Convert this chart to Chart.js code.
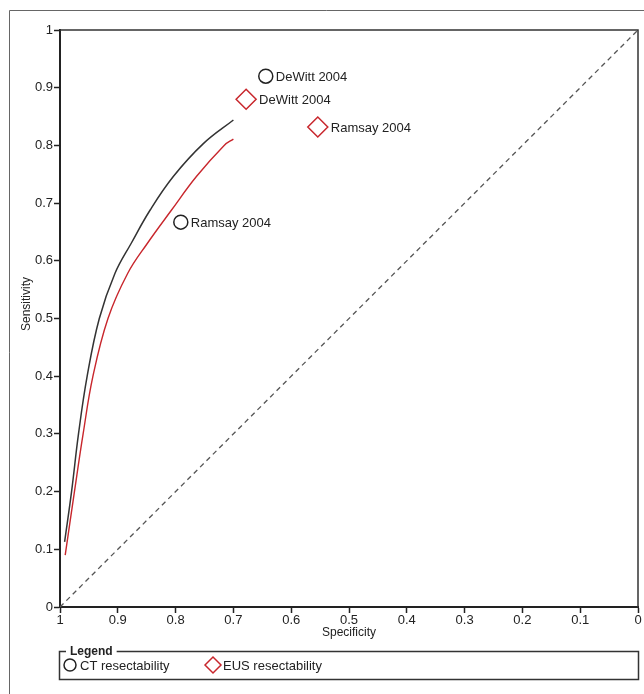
<!DOCTYPE html>
<html>
<head>
<meta charset="utf-8">
<script src="https://cdn.jsdelivr.net/npm/chart.js@4.4.1/dist/chart.umd.min.js"></script>
<style>
  html, body { margin: 0; padding: 0; background: #fff; }
  #wrap { width: 644px; height: 694px; }
</style>
</head>
<body>
<div id="wrap"><canvas id="sroc"></canvas></div>
<script>
// names shown in the legend box
const seriesNames = ['CT resectability', 'EUS resectability'];

// single studies (specificity, sensitivity)
const ctStudies = ['DeWitt 2004', 'Ramsay 2004'];
const ctSpec = [0.644, 0.791];
const ctSens = [0.920, 0.667];

const eusStudies = ['DeWitt 2004', 'Ramsay 2004'];
const eusSpec = [0.678, 0.554];
const eusSens = [0.880, 0.832];

// summary ROC curves
const ctCurveSpec = [0.992, 0.980, 0.968, 0.953, 0.932, 0.905, 0.877, 0.844, 0.804, 0.752, 0.700];
const ctCurveSens = [0.113, 0.200, 0.300, 0.400, 0.500, 0.578, 0.630, 0.688, 0.746, 0.803, 0.844];
const eusCurveSpec = [0.991, 0.975, 0.960, 0.943, 0.917, 0.883, 0.849, 0.807, 0.764, 0.716, 0.700];
const eusCurveSens = [0.090, 0.200, 0.300, 0.400, 0.500, 0.578, 0.630, 0.688, 0.746, 0.800, 0.811];

// chance line
const diagSpec = [1, 0];
const diagSens = [0, 1];

// tick labels, 0 .. 1 in steps of 0.1
const tickLabels = ['0', '0.1', '0.2', '0.3', '0.4', '0.5', '0.6', '0.7', '0.8', '0.9', '1'];
const yTitle = 'Sensitivity';
const xTitle = 'Specificity';

const FONT = '"Liberation Sans", Arial, sans-serif';
const RED = '#c8262c';

function toPts(xs, ys) {
    return xs.map((x, i) => ({ x: x, y: ys[i] }));
}

function tickText(value) {
    return tickLabels[Math.round(value * 10)];
}

// frame, plot box, study labels and legend box
const extras = {
    id: 'extras',
    beforeDraw(chart) {
        const c = chart.ctx;
        c.save();
        c.strokeStyle = '#666';
        c.lineWidth = 1;
        c.beginPath();
        c.moveTo(9.5, 694);
        c.lineTo(9.5, 10.5);
        c.lineTo(644, 10.5);
        c.stroke();
        c.restore();
    },
    afterDraw(chart) {
        const c = chart.ctx;
        const a = chart.chartArea;
        c.save();
        c.strokeStyle = '#333';
        c.lineWidth = 1.5;
        c.beginPath();
        c.moveTo(a.left, a.top);
        c.lineTo(a.right, a.top);
        c.lineTo(a.right, a.bottom);
        c.stroke();

        // y axis title sits a little above the middle in the original
        c.save();
        c.translate(27, 304);
        c.rotate(-Math.PI / 2);
        c.font = '12px ' + FONT;
        c.fillStyle = '#222';
        c.textAlign = 'center';
        c.textBaseline = 'middle';
        c.fillText(yTitle, 0, 0);
        c.restore();

        // labels next to each study marker
        c.font = '13px ' + FONT;
        c.fillStyle = '#222';
        c.textBaseline = 'middle';
        chart.data.datasets.forEach((ds, i) => {
            if (!ds.studyLabels) return;
            chart.getDatasetMeta(i).data.forEach((pt, j) => {
                c.fillText(ds.studyLabels[j], pt.x + ds.pointRadius + 3, pt.y + 1);
            });
        });

        // legend box
        const lx = 59.5, ly = 651.5, lw = 579, lh = 28;
        c.strokeStyle = '#333';
        c.lineWidth = 1.5;
        c.strokeRect(lx, ly, lw, lh);
        c.font = 'bold 12px ' + FONT;
        const tw = c.measureText('Legend').width;
        c.fillStyle = '#fff';
        c.fillRect(66, ly - 3, tw + 8, 6);
        c.fillStyle = '#222';
        c.fillText('Legend', 70, ly);

        const my = 665;
        c.lineWidth = 1.5;
        c.strokeStyle = '#222';
        c.beginPath();
        c.arc(70, my, 6, 0, Math.PI * 2);
        c.stroke();
        c.font = '13px ' + FONT;
        c.fillText(seriesNames[0], 80, my + 1);

        c.strokeStyle = RED;
        c.beginPath();
        c.moveTo(205, my);
        c.lineTo(213, my - 8);
        c.lineTo(221, my);
        c.lineTo(213, my + 8);
        c.closePath();
        c.stroke();
        c.fillText(seriesNames[1], 223, my + 1);
        c.restore();
    }
};

const ctx = document.getElementById('sroc').getContext('2d');

const chart = new Chart(ctx, {
    type: 'scatter',
    data: {
        datasets: [
            {
                label: 'chance',
                data: toPts(diagSpec, diagSens),
                showLine: true,
                borderColor: '#555',
                borderWidth: 1.3,
                borderDash: [5, 4],
                pointRadius: 0
            },
            {
                label: seriesNames[0] + ' SROC',
                data: toPts(ctCurveSpec, ctCurveSens),
                showLine: true,
                borderColor: '#333',
                borderWidth: 1.5,
                tension: 0.4,
                pointRadius: 0
            },
            {
                label: seriesNames[1] + ' SROC',
                data: toPts(eusCurveSpec, eusCurveSens),
                showLine: true,
                borderColor: RED,
                borderWidth: 1.4,
                tension: 0.4,
                pointRadius: 0
            },
            {
                label: seriesNames[0],
                data: toPts(ctSpec, ctSens),
                studyLabels: ctStudies,
                pointStyle: 'circle',
                pointRadius: 7,
                borderColor: '#222',
                backgroundColor: 'rgba(0,0,0,0)',
                borderWidth: 1.5
            },
            {
                label: seriesNames[1],
                data: toPts(eusSpec, eusSens),
                studyLabels: eusStudies,
                pointStyle: 'rectRot',
                pointRadius: 10,
                borderColor: RED,
                backgroundColor: 'rgba(0,0,0,0)',
                borderWidth: 1.5
            }
        ]
    },
    options: {
        responsive: true,
        maintainAspectRatio: false,
        animation: false,
        layout: {
            autoPadding: false,
            padding: { left: 0, top: 30, right: 6, bottom: 52 }
        },
        plugins: {
            legend: { display: false },
            tooltip: { enabled: false }
        },
        scales: {
            x: {
                type: 'linear',
                reverse: true,
                min: 0,
                max: 1,
                ticks: {
                    stepSize: 0.1,
                    padding: 0,
                    color: '#222',
                    font: { family: FONT, size: 13 },
                    callback: tickText
                },
                grid: {
                    drawOnChartArea: false,
                    tickLength: 6,
                    tickWidth: 1.5,
                    color: '#222'
                },
                border: { color: '#222', width: 2 },
                title: {
                    display: true,
                    text: xTitle,
                    color: '#222',
                    font: { family: FONT, size: 12 },
                    padding: { top: 0, bottom: 2 }
                },
                afterFit(scale) {
                    scale.height = 35;
                    scale.paddingLeft = 0;
                    scale.paddingRight = 0;
                }
            },
            y: {
                type: 'linear',
                min: 0,
                max: 1,
                ticks: {
                    stepSize: 0.1,
                    padding: 1,
                    color: '#222',
                    font: { family: FONT, size: 13 },
                    callback: tickText
                },
                grid: {
                    drawOnChartArea: false,
                    tickLength: 6,
                    tickWidth: 1.5,
                    color: '#222'
                },
                border: { color: '#222', width: 2 },
                afterFit(scale) { scale.width = 60; }
            }
        }
    },
    plugins: [extras]
});
</script>
</body>
</html>
